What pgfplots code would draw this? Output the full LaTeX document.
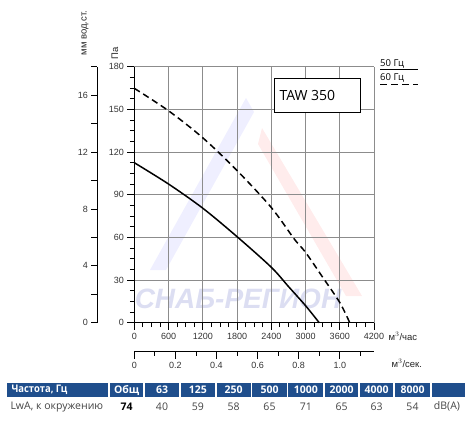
\documentclass[border=0pt]{standalone}
\usepackage{pgfplots}
\pgfplotsset{compat=1.18}
\usepackage{fontspec}
\setmainfont{Liberation Sans}
\newfontfamily\osans{Open Sans}
\definecolor{hdr}{HTML}{1F4E8C}
\definecolor{txt}{HTML}{444444}
\definecolor{wm}{HTML}{DCDEF2}
\begin{document}
\begin{tikzpicture}[x=1pt,y=1pt]
\useasboundingbox (0pt,0pt) rectangle (472pt,424pt);
% watermark
\fill[blue!25,opacity=0.25] (150pt,154pt) -- (246pt,326pt) -- (254pt,312pt) -- (166pt,154pt) -- cycle;
\fill[red!30,opacity=0.25] (262pt,296pt) -- (362pt,128pt) -- (346pt,128pt) -- (258pt,280pt) -- cycle;
\node[text=wm,font=\fontsize{28}{30}\selectfont\bfseries\itshape] at (238pt,125pt) {СНАБ-РЕГИОН};
% main axis
\begin{axis}[
  at={(134.3pt,101.3pt)}, anchor=south west,
  scale only axis, width=239.7pt, height=256pt,
  xmin=0, xmax=4200, ymin=0, ymax=180,
  xtick={0,600,...,4200}, ytick={0,30,...,180},
  minor x tick num=3, minor y tick num=3,
  tick align=outside,
  major tick length=7pt, minor tick length=4.5pt,
  grid=major, major grid style={black!45, line width=0.8pt},
  axis x line*=bottom, axis y line*=left,
  axis line style={black, line width=1pt, -},
  tick style={black, line width=0.8pt},
  /pgf/number format/assume math mode=true,
  /pgf/number format/1000 sep={},
  ticklabel style={font=\fontsize{9}{10}\selectfont, text=black!80},
  clip=false,
]
\addplot[black, line width=1.5pt, smooth] coordinates {
  (0,112.5) (600,97.5) (1200,80.5) (1800,60.5) (2400,39) (2700,25.5) (3000,12) (3240,0)
};
\addplot[black, line width=1.5pt, smooth, dash pattern=on 6.5pt off 4pt] coordinates {
  (0,164.8) (600,149) (1200,130) (1800,107) (2400,81) (2800,59) (3000,49.5) (3300,32) (3600,14.2) (3775,0)
};
\end{axis}
% mm axis
\begin{axis}[
  at={(97.3pt,101.3pt)}, anchor=south west,
  scale only axis, width=10pt, height=256pt,
  xmin=0, xmax=1, ymin=0, ymax=18,
  hide x axis, axis y line=left,
  axis line style={black, line width=1pt, -},
  ytick={0,4,...,16}, minor ytick={2,6,10,14,18},
  tick align=outside,
  major tick length=6pt, minor tick length=6pt,
  tick style={black, line width=0.8pt},
  /pgf/number format/assume math mode=true,
  ticklabel style={font=\fontsize{9}{10}\selectfont, text=black!80},
]
\addplot[draw=none] coordinates {(0,0)};
\end{axis}
% m3/s axis
\begin{axis}[
  at={(134.3pt,72.3pt)}, anchor=south west,
  scale only axis, width=239.7pt, height=10pt,
  xmin=0, xmax=1.16667, ymin=0, ymax=1,
  hide y axis, axis x line=bottom,
  axis line style={black, line width=1pt, -},
  xtick={0,0.2,0.4,0.6,0.8,1.0},
  xticklabels={0,0.2,0.4,0.6,0.8,1.0},
  minor xtick={0.1,0.3,0.5,0.7,0.9,1.1},
  tick align=outside,
  major tick length=7pt, minor tick length=4pt,
  tick style={black, line width=0.8pt},
  ticklabel style={font=\fontsize{9}{10}\selectfont, text=black!80},
]
\addplot[draw=none] coordinates {(0,0)};
\end{axis}
% axis labels
\node[rotate=90, font=\fontsize{9.5}{10}\selectfont, text=black!85] at (85pt,391pt) {мм вод.ст.};
\node[rotate=90, font=\fontsize{9.5}{10}\selectfont, text=black!85] at (115pt,371pt) {Па};
\node[anchor=west, font=\fontsize{9.5}{10}\selectfont, text=black!85] at (385pt,87.5pt) {м$^3$/час};
\node[anchor=west, font=\fontsize{9.5}{10}\selectfont, text=black!85] at (388pt,61pt) {м$^3$/сек.};
% legend
\node[anchor=base west, inner sep=0pt, font=\osans\fontsize{9.5}{10}\selectfont] at (380pt,357.5pt) {50 Гц};
\draw[black, line width=0.9pt] (380pt,354.7pt) -- (418pt,354.7pt);
\node[anchor=base west, inner sep=0pt, font=\osans\fontsize{9.5}{10}\selectfont] at (380pt,343.5pt) {60 Гц};
\draw[black, line width=0.9pt, dash pattern=on 7pt off 4pt] (380pt,340pt) -- (418pt,340pt);
% model box
\node[draw=black, fill=white, line width=0.8pt, minimum width=86.7pt, minimum height=34pt, inner sep=0pt] at (317.3pt,328.7pt) {};
\node[anchor=west, font=\osans\fontsize{14}{15}\selectfont] at (276pt,328.5pt) {TAW 350};
% table
\fill[hdr] (6.7pt,26.7pt) rectangle (108.3pt,41.3pt);
\foreach \a/\b in {110/143.3,145/179,180.7/215,216.7/250.7,252.3/286.7,288.3/323.3,325/358.3,360/393.3,395/430,431.7/465}
  \fill[hdr] (\a pt,26.7pt) rectangle (\b pt,41.3pt);
\node[anchor=west, text=white, font=\osans\bfseries\fontsize{10.5}{11}\selectfont] at (8pt,34pt) {\scalebox{0.9}[1]{Частота, Гц}};
\foreach \x/\t in {126.7/Общ,162/63,197.8/125,233.7/250,269.5/500,305.8/1000,341.7/2000,376.7/4000,412.5/8000}
  \node[text=white, font=\osans\bfseries\fontsize{10.5}{11}\selectfont] at (\x pt,34pt) {\t};
\node[anchor=west, text=txt, font=\osans\fontsize{10.5}{11}\selectfont] at (7pt,17.3pt) {LwA, к окружению};
\node[text=black, font=\osans\bfseries\fontsize{10.5}{11}\selectfont] at (126.7pt,17.3pt) {74};
\foreach \x/\t in {162/40,197.8/59,233.7/58,269.5/65,305.8/71,341.7/65,376.7/63,412.5/54,447/dB(A)}
  \node[text=txt, font=\osans\fontsize{10.5}{11}\selectfont] at (\x pt,17.3pt) {\t};
\end{tikzpicture}
\end{document}
